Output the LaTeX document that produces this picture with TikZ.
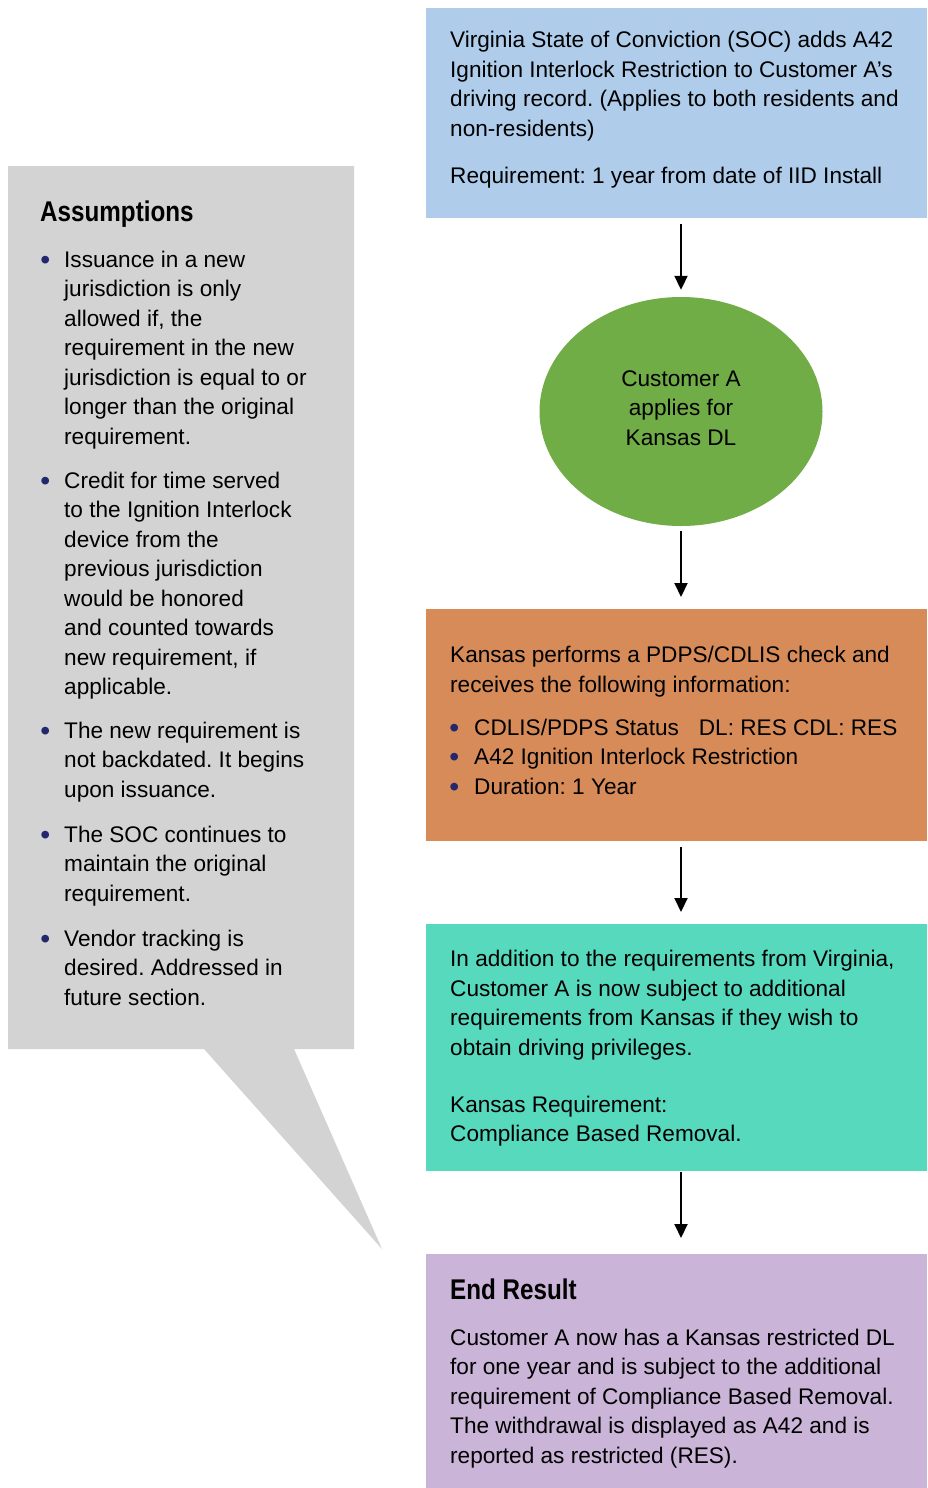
\documentclass[tikz,border=0pt]{standalone}
\usepackage{fontspec}
\usetikzlibrary{arrows.meta,shapes.geometric}
\setmainfont{Liberation Sans}
\newfontfamily\headfont[FakeStretch=0.85]{Liberation Sans}
\definecolor{bluebox}{HTML}{AFCDEA}
\definecolor{greenell}{HTML}{70AD47}
\definecolor{orangebox}{HTML}{D68B59}
\definecolor{tealbox}{HTML}{57D9BD}
\definecolor{purplebox}{HTML}{CAB4D8}
\definecolor{graybox}{HTML}{D3D3D3}
\definecolor{bulc}{HTML}{23286E}
\frenchspacing
\newcommand{\bodyfont}{\fontsize{22.6}{29.5}\selectfont\frenchspacing}
\newcommand{\tl}[2]{\parbox[t]{#1}{\raggedright #2}}
\newcommand{\bigbul}{\raisebox{-2pt}{\scalebox{1.25}{\textcolor{bulc}{\textbullet}}}}
\newcommand{\gbul}{\leavevmode\llap{\bigbul\hspace{14pt}}}
\newcommand{\obul}{\leavevmode\llap{\bigbul\hspace{15pt}}}
\begin{document}
\begin{tikzpicture}[x=1pt,y=-1pt,
  boxshape/.style={draw=none, inner sep=0pt, anchor=north west, minimum width=501pt},
  txt/.style={anchor=base west, inner sep=0pt, font=\bodyfont, text=black},
  head/.style={anchor=base west, inner sep=0pt, font=\headfont\bfseries\fontsize{28.5}{32}\selectfont, text=black},
  arr/.style={line width=2pt, -{Triangle[length=14pt,width=13pt]}}
]
\useasboundingbox (0,0) rectangle (927,1488);
% callout
\fill[graybox] (8,166) -- (354,166) -- (354,1049) -- (294,1049) -- (382,1249) -- (204,1049) -- (8,1049) -- cycle;
\node[head] (ahead) at (40,221) {Assumptions};
\node[txt] (a1) at (64,267) {\tl{285pt}{\gbul Issuance in a new\\jurisdiction is only\\allowed if, the\\requirement in the new\\jurisdiction is equal to or\\longer than the original\\requirement.}};
\node[txt] (a2) at (64,488) {\tl{285pt}{\gbul Credit for time served\\to the Ignition Interlock\\device from the\\previous jurisdiction\\would be honored\\and counted towards\\new requirement, if\\applicable.}};
\node[txt] (a3) at (64,738) {\tl{285pt}{\gbul The new requirement is\\not backdated. It begins\\upon issuance.}};
\node[txt] (a4) at (64,842) {\tl{285pt}{\gbul The SOC continues to\\maintain the original\\requirement.}};
\node[txt] (a5) at (64,946) {\tl{285pt}{\gbul Vendor tracking is\\desired. Addressed in\\future section.}};

% boxes
\node[boxshape, fill=bluebox, minimum height=210pt] (soc) at (426,8) {};
\node[txt] (soct) at (450,48) {\tl{470pt}{Virginia State of Conviction (SOC) adds A42\\Ignition Interlock Restriction to Customer A’s\\driving record. (Applies to both residents and\\non-residents)}};
\node[txt] (socr) at (450,183) {Requirement: 1 year from date of IID Install};

\node[ellipse, fill=greenell, minimum width=283pt, minimum height=229pt, inner sep=0pt] (appl) at (681,411.5) {};
\node[anchor=base, inner sep=0pt, font=\bodyfont] (applt) at (681,386) {\parbox[t]{200pt}{\centering Customer A\\applies for\\Kansas DL}};

\node[boxshape, fill=orangebox, minimum height=232pt] (chk) at (426,609) {};
\node[txt] (chkt) at (450,662.5) {\tl{470pt}{Kansas performs a PDPS/CDLIS check and\\receives the following information:}};
\node[txt] (chkb) at (474,735) {\tl{450pt}{\obul CDLIS/PDPS Status\hspace{20pt}DL: RES CDL: RES\\\obul A42 Ignition Interlock Restriction\\\obul Duration: 1 Year}};

\node[boxshape, fill=tealbox, minimum height=247pt] (req) at (426,924) {};
\node[txt] (reqt) at (450,966.5) {\tl{470pt}{In addition to the requirements from Virginia,\\Customer A is now subject to additional\\requirements from Kansas if they wish to\\obtain driving privileges.}};
\node[txt] (reqk) at (450,1112) {\tl{470pt}{Kansas Requirement:\\Compliance Based Removal.}};

\node[boxshape, fill=purplebox, minimum height=234pt] (res) at (426,1254) {};
\node[head] (rhead) at (450,1299) {End Result};
\node[txt] (rest) at (450,1345) {\tl{470pt}{Customer A now has a Kansas restricted DL\\for one year and is subject to the additional\\requirement of Compliance Based Removal.\\The withdrawal is displayed as A42 and is\\reported as restricted (RES).}};

% connectors
\draw[arr, shorten <=6pt, shorten >=7pt] (appl.north |- soc.south) -- (appl.north);
\draw[arr, shorten <=5pt, shorten >=12pt] (appl.south) -- (appl.south |- chk.north);
\draw[arr, shorten <=6pt, shorten >=12pt] (appl.south |- chk.south) -- (appl.south |- req.north);
\draw[arr, shorten <=1pt, shorten >=16pt] (appl.south |- req.south) -- (appl.south |- res.north);
\end{tikzpicture}
\end{document}
